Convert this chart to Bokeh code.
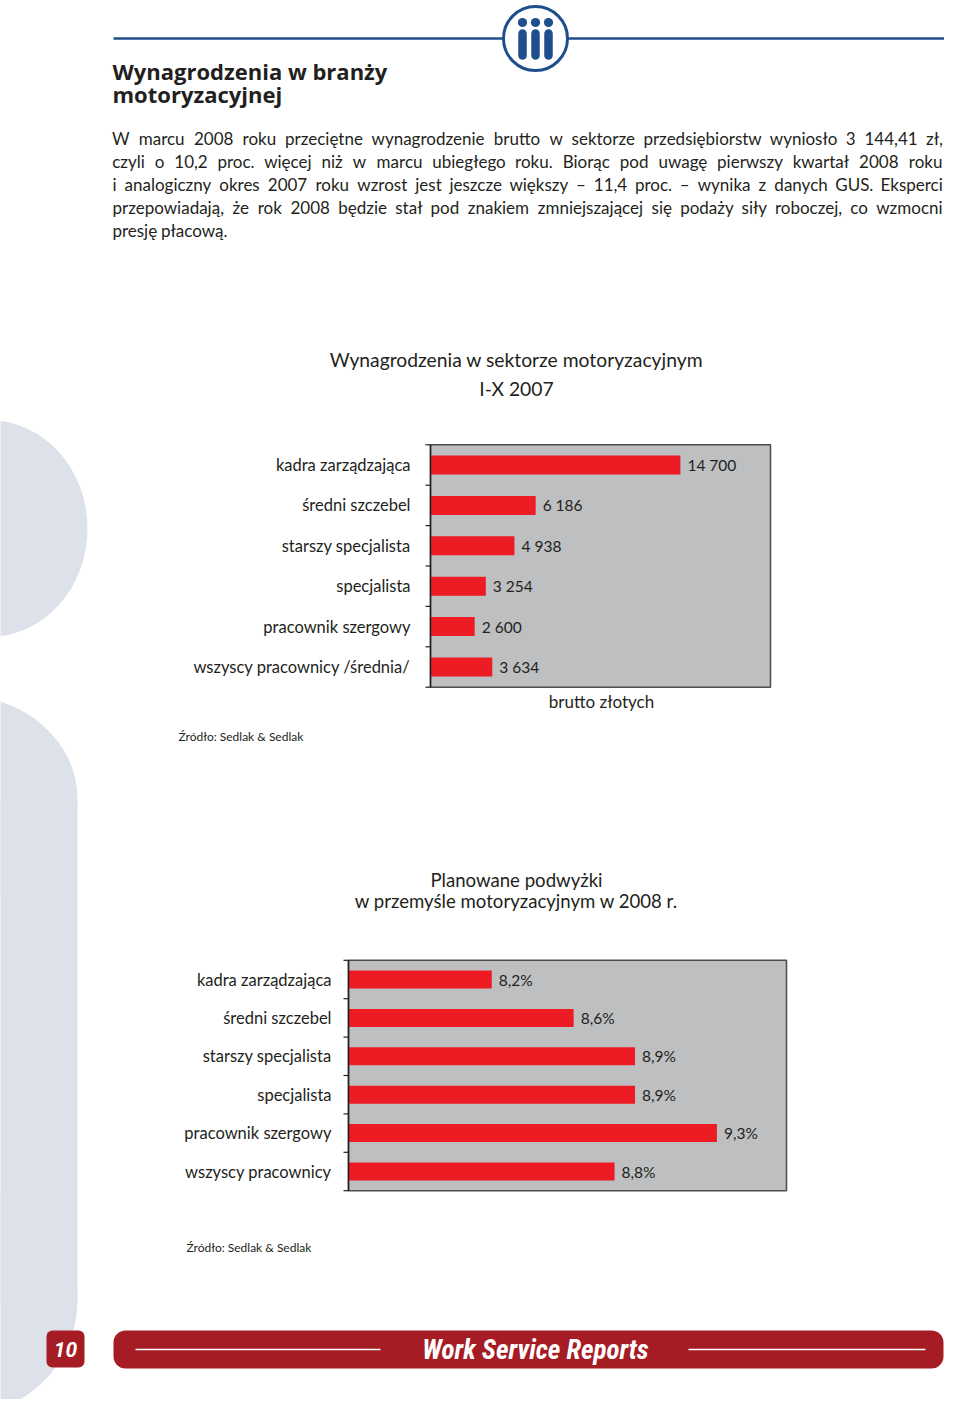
import numpy as np
from bokeh.plotting import figure
from bokeh.models import Range1d, ColumnDataSource
from bokeh.core.properties import value
from bokeh.embed import file_html
from bokeh.resources import INLINE

# ---------------- data ----------------
header_title = ["Wynagrodzenia w branży", "motoryzacyjnej"]
body_lines = [
    "W marcu 2008 roku przeciętne wynagrodzenie brutto w sektorze przedsiębiorstw wyniosło 3 144,41 zł,",
    "czyli o 10,2 proc. więcej niż w marcu ubiegłego roku. Biorąc pod uwagę pierwszy kwartał 2008 roku",
    "i analogiczny okres 2007 roku wzrost jest jeszcze większy – 11,4 proc. – wynika z danych GUS. Eksperci",
    "przepowiadają, że rok 2008 będzie stał pod znakiem zmniejszającej się podaży siły roboczej, co wzmocni",
    "presję płacową.",
]

chart1_title = ["Wynagrodzenia w sektorze motoryzacyjnym", "I-X 2007"]
chart1_cats = ["kadra zarządzająca", "średni szczebel", "starszy specjalista",
               "specjalista", "pracownik szergowy", "wszyscy pracownicy /średnia/"]
chart1_vals = [14700, 6186, 4938, 3254, 2600, 3634]
chart1_unit = "brutto złotych"
chart1_axis = (0, 20000)

chart2_title = ["Planowane podwyżki", "w przemyśle motoryzacyjnym w 2008 r."]
chart2_cats = ["kadra zarządzająca", "średni szczebel", "starszy specjalista",
               "specjalista", "pracownik szergowy", "wszyscy pracownicy"]
chart2_vals = [8.2, 8.6, 8.9, 8.9, 9.3, 8.8]
chart2_axis = (7.5, 9.64)

source_text = "Źródło: Sedlak & Sedlak"
footer_text = "Work Service Reports"
page_number = "10"

# ---------------- styles ----------------
BLUE = "#1f4e8c"
RED = "#ed1c24"
DARKRED = "#a61c24"
GRAY = "#bebfc1"
DECOR = "#dde2ea"
TXT = "#231f20"
BODY_FONT = value("Lato")
HEAD_FONT = value("Open Sans")

W, H = 944, 1399
p = figure(width=W, height=H, output_backend="svg", toolbar_location=None,
           x_range=Range1d(0, W), y_range=Range1d(H, 0),
           min_border=0, outline_line_color=None)
p.axis.visible = False
p.grid.visible = False
p.background_fill_color = "white"
p.border_fill_color = "white"

# ---------------- left decorative shapes ----------------
p.ellipse(x=[-10], y=[528], width=[194], height=[216], fill_color=DECOR, line_color=None)
p.quad(left=[-160], right=[77], top=[800], bottom=[1300], fill_color=DECOR, line_color=None)
p.ellipse(x=[-40, -40], y=[798, 1300], width=[234, 234], height=[206, 230],
          fill_color=DECOR, line_color=None)

# ---------------- header ----------------
p.segment(x0=[113, 567], y0=[38, 38], x1=[503, 960], y1=[38, 38], line_color=BLUE, line_width=2.5)
p.circle(x=[535], y=[38], radius=32, fill_color="white", line_color=BLUE, line_width=3)
p.circle(x=[522, 535, 548], y=[22, 22, 22], radius=4.6, fill_color=BLUE, line_color=None)
p.segment(x0=[522, 535, 548], y0=[33, 33, 33], x1=[522, 535, 548], y1=[55, 55, 55],
          line_color=BLUE, line_width=8.5, line_cap="round")

p.text(x=[112, 112], y=[70, 93], text=header_title, text_font=HEAD_FONT,
       text_font_style="bold", text_font_size="22px", text_color=TXT,
       text_baseline="alphabetic")

# ---- justified paragraph (word placement from approximate glyph widths) ----
CW = {"a": .51, "ą": .51, "b": .56, "c": .46, "d": .56, "e": .52, "ę": .52, "f": .33,
      "g": .50, "h": .56, "i": .24, "j": .24, "k": .50, "l": .24, "ł": .28, "m": .84,
      "n": .56, "o": .56, "ó": .56, "p": .55, "r": .37, "s": .42, "ś": .42, "t": .36,
      "u": .56, "w": .78, "y": .50, "z": .45, "ż": .45, "ź": .45, "W": .99, "B": .63,
      "G": .72, "U": .71, "S": .52, "E": .57, ",": .21, ".": .21, "–": .58}
BODY_FS = 17.0
L_EDGE, R_EDGE = 112, 942

def wwidth(w):
    return sum(CW.get(c, .58) for c in w) * BODY_FS

wx, wy, wt = [], [], []
for i, line in enumerate(body_lines):
    words = line.split(" ")
    ws = [wwidth(w) for w in words]
    last = i == len(body_lines) - 1
    gap = 0.26 * BODY_FS if last else (R_EDGE - L_EDGE - sum(ws)) / (len(words) - 1)
    x = L_EDGE
    for w, ww in zip(words, ws):
        wx.append(x + ww / 2)
        wy.append(138 + 23 * i)
        wt.append(w)
        x += ww + gap
p.text(x=wx, y=wy, text=wt, text_font=BODY_FONT, text_font_size=f"{BODY_FS}px",
       text_color=TXT, text_align="center", text_baseline="alphabetic")

# ---------------- chart helper ----------------
def add_chart(name, cats, vals, axis, px_left, px_right, y_first, y_step,
              labels, label_gap, fs_cat, fs_val):
    lo, hi = axis
    k = (px_right - px_left) / (hi - lo)
    p.extra_x_ranges[name] = Range1d(lo - px_left / k, lo + (W - px_left) / k)
    p.extra_y_ranges[name] = Range1d((H - y_first) / y_step, -y_first / y_step)
    n = len(cats)
    idx = list(range(n))
    kw = dict(x_range_name=name, y_range_name=name)
    p.quad(left=[lo], right=[hi], top=[-0.5], bottom=[n - 0.5], fill_color=GRAY,
           line_color="#4d4d4f", line_width=1.5, **kw)
    src = ColumnDataSource(dict(y=idx, v=vals, cat=cats, lab=labels))
    p.hbar(y="y", left=lo, right="v", height=0.47, source=src, fill_color=RED,
           line_color=None, **kw)
    bnd = [i - 0.5 for i in range(n + 1)]
    p.segment(x0=[lo], y0=[-0.5], x1=[lo], y1=[n - 0.5], line_color="#231f20",
              line_width=1.5, **kw)
    tick = 5 / k
    p.segment(x0=[lo - tick] * len(bnd), y0=bnd, x1=[lo] * len(bnd), y1=bnd,
              line_color="#231f20", line_width=1.2, **kw)
    p.text(x=lo, y="y", text="cat", source=src, x_offset=-label_gap, text_align="right",
           text_baseline="middle", text_font=BODY_FONT, text_font_size=fs_cat,
           text_color=TXT, **kw)
    p.text(x="v", y="y", text="lab", source=src, x_offset=7, text_align="left",
           text_baseline="middle", text_font=BODY_FONT, text_font_size=fs_val,
           text_color=TXT, **kw)

lab1 = [f"{v:,}".replace(",", " ") for v in chart1_vals]
add_chart("c1", chart1_cats, chart1_vals, chart1_axis, 430, 770, 464.5, 40.4,
          lab1, 20, "16.5px", "15.5px")
p.text(x=[516, 516], y=[359, 388], text=chart1_title, text_font=BODY_FONT,
       text_font_size="19.3px", text_color=TXT, text_align="center", text_baseline="alphabetic")
p.text(x=[601], y=[701], text=[chart1_unit], text_font=BODY_FONT, text_font_size="17px",
       text_color=TXT, text_align="center", text_baseline="alphabetic")
p.text(x=[178], y=[736], text=[source_text], text_font=BODY_FONT, text_font_size="12px",
       text_color=TXT, text_baseline="alphabetic")

lab2 = [f"{v:.1f}%".replace(".", ",") for v in chart2_vals]
add_chart("c2", chart2_cats, chart2_vals, chart2_axis, 348, 786, 979, 38.4,
          lab2, 17, "16.5px", "15.5px")
p.text(x=[516, 516], y=[879, 900], text=chart2_title, text_font=BODY_FONT,
       text_font_size="18.6px", text_color=TXT, text_align="center", text_baseline="alphabetic")
p.text(x=[186], y=[1247], text=[source_text], text_font=BODY_FONT, text_font_size="12px",
       text_color=TXT, text_baseline="alphabetic")

# ---------------- footer ----------------
def rounded_quad(l, r, t, b, color, rad):
    try:
        p.quad(left=[l], right=[r], top=[t], bottom=[b], fill_color=color,
               line_color=None, border_radius=rad)
    except Exception:
        p.quad(left=[l], right=[r], top=[t], bottom=[b], fill_color=color, line_color=None)

rounded_quad(46, 84, 1330, 1367, DARKRED, 6)
rounded_quad(113, 943, 1330, 1368, DARKRED, 12)
p.segment(x0=[135, 688], y0=[1349, 1349], x1=[380, 925], y1=[1349, 1349],
          line_color="white", line_width=1.3)
p.text(x=[65], y=[1349], text=[page_number], text_font=value("Roboto"),
       text_font_style="bold italic", text_font_size="21px", text_color="white",
       text_align="center", text_baseline="middle")
p.text(x=[535], y=[1349], text=[footer_text],
       text_font=value("Liberation Sans Narrow, Roboto Condensed, Roboto"),
       text_font_style="bold italic", text_font_size="27px", text_color="white",
       text_align="center", text_baseline="middle")

open("out.html", "w").write(file_html(p, INLINE))
